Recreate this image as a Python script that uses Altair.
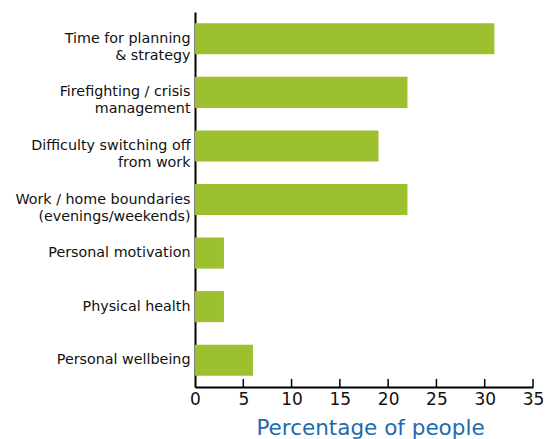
import altair as alt
import pandas as pd

categories = [
    "Time for planning|& strategy",
    "Firefighting / crisis|management",
    "Difficulty switching off|from work",
    "Work / home boundaries|(evenings/weekends)",
    "Personal motivation",
    "Physical health",
    "Personal wellbeing",
]
values = [31, 22, 19, 22, 3, 3, 6]
tick_values = [5, 10, 15, 20, 25, 30, 35]

df = pd.DataFrame({"cat": categories, "pct": values})
ticks = pd.DataFrame({"t": tick_values})

W, H = 338, 375
FONT = "DejaVu Sans"

xscale = alt.Scale(domain=[0, 35], nice=False, zero=True)

bars = alt.Chart(df).mark_bar(color="#9CC02E").encode(
    x=alt.X("pct:Q", scale=xscale,
            axis=alt.Axis(values=[0, 5, 10, 15, 20, 25, 30, 35], ticks=False, grid=False,
                          labelFlush=False,
                          domainColor="#000", domainWidth=2, labelFont=FONT, labelFontSize=17,
                          labelColor="#111", labelPadding=4, title="Percentage of people",
                          titleFont=FONT, titleFontSize=21.5, titleFontWeight="normal",
                          titleColor="#1E6AAF", titlePadding=10, titleX=175, titleAlign="center")),
    y=alt.Y("cat:N", sort=categories, scale=alt.Scale(paddingInner=0.42, paddingOuter=0.21),
            axis=alt.Axis(ticks=False, grid=False, domainColor="#000", domainWidth=2,
                          labelFont=FONT, labelFontSize=14.3, labelColor="#111", labelPadding=5,
                          labelLimit=300, labelLineHeight=17,
                          labelExpr="split(datum.label, '|')", title=None)),
)

tick_rules = alt.Chart(ticks).mark_rule(color="#000", strokeWidth=1.5).encode(
    x=alt.X("t:Q", scale=xscale),
    y=alt.value(H - 8),
    y2=alt.value(H),
)

chart = alt.layer(bars, tick_rules).properties(
    width=W, height=H,
    autosize=alt.AutoSizeParams(type="none"),
    padding={"left": 187, "top": 4, "right": 13, "bottom": 52},
    background="white",
).configure_view(stroke=None)

chart.save("out.html", embed_options={"renderer": "svg", "actions": False})
